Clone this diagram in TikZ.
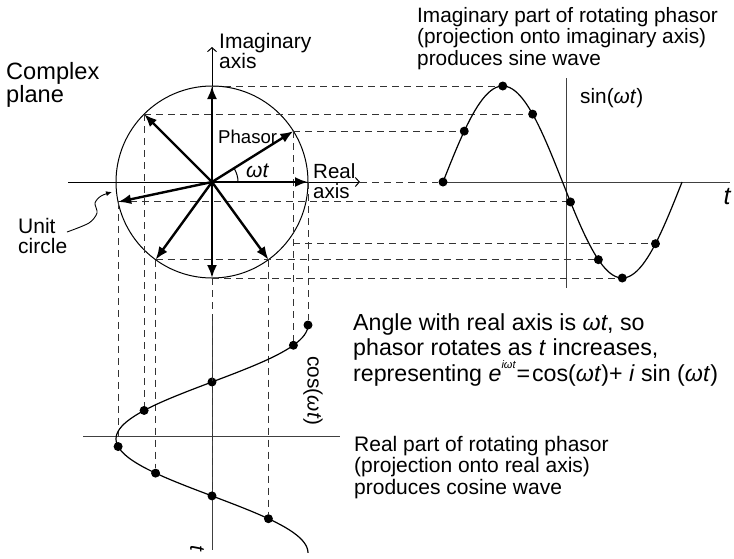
\documentclass[tikz,border=0pt]{standalone}
\usepackage{fontspec}
\setmainfont{Liberation Sans}
\usetikzlibrary{arrows.meta}

\begin{document}
\begin{tikzpicture}[x=1pt,y=-1pt,
  phasor/.style={line width=2.4pt,-{Latex[length=13pt,width=10pt]}},
  proj/.style={black!80,line width=1pt,dash pattern=on 7pt off 5pt},
  axisline/.style={black!75,line width=1pt},
  wave/.style={line width=1.2pt},
  dot/.style={circle,fill,inner sep=0pt,minimum size=9pt},
  txt/.style={align=left,anchor=north west,inner sep=0pt,font=\fontsize{20.8}{21.5}\selectfont}]
\useasboundingbox (0,0) rectangle (734,558);
\coordinate (O) at (212,182);
\coordinate (realL) at (68,182);
\coordinate (realR) at (360,182);
\coordinate (imagT) at (212,47);
\foreach \a/\n in {0/a,32/b,90/c,135/d,192/e,234/f,270/g,306/h}
  \path (O) ++(-\a:96) coordinate (p\n);
\draw[line width=1pt] (O) circle[radius=96pt];
\draw[line width=1pt,-{Straight Barb[length=4pt,width=9pt]}] (realL) -- (realR);
\draw[line width=1pt,-{Straight Barb[length=4pt,width=9pt]}] (O) -- (imagT);
\draw[line width=1pt] ([xshift=26pt]O) arc[start angle=0,end angle=32,radius=26pt];
\draw[axisline] (443,182) -- (730,182) coordinate (tsin);
\draw[axisline] (566,78) -- (566,288);
\draw[axisline] (83,436) -- (340,436);
\draw[axisline] (212,318) -- (212,550) coordinate (tcos);
\foreach \a/\n in {0/a,32/b,90/c,135/d,192/e,234/f,270/g,320/k}
  \node[dot] (s\n) at ({443+0.664*\a},{182-96*sin(\a)}) {};
\foreach \a/\n in {0/a,32/b,90/c,135/d,192/e,234/f,270/g,306/h}
  \node[dot] (c\n) at ({212+96*cos(\a)},{325+0.633*\a}) {};
\draw[proj] (pc) -- (sc);
\draw[proj] (pd) -- (sd);
\draw[proj] (pb) -- (sb);
\draw[proj] (realR) -- (sa);
\draw[proj] (pe) -- (se);
\draw[proj] (pb |- sk) -- (sk);
\draw[proj] (pf) -- (sf);
\draw[proj] (pg) -- (sg);
\draw[proj] (pa) -- (ca);
\draw[proj] (pb) -- (cb);
\draw[proj] (pd) -- (cd);
\draw[proj] (pe) -- (ce);
\draw[proj] (pf) -- (cf);
\draw[proj] (pg) -- (cg);
\draw[proj] (ph) -- (ch);
\draw[wave] plot[domain=0:360,samples=91] ({443+0.664*\x},{182-96*sin(\x)});
\draw[wave] plot[domain=0:360,samples=91] ({212+96*cos(\x)},{325+0.633*\x});
\foreach \n in {a,b,c,d,e,f,g,h}
  \draw[phasor] (O) -- (p\n);
\draw[line width=0.9pt,-{Latex[length=6pt,width=5pt]}] plot[smooth] coordinates {(67,232) (89,223) (97,213) (95,203) (101,196) (112,192)};
\node[txt] (imagtxt) at (417,7) {Imaginary part of rotating phasor\\(projection onto imaginary axis)\\produces sine wave};
\node[txt,font=\fontsize{23.6}{23}\selectfont] (plane) at (6,62) {Complex\\plane};
\node[txt,font=\fontsize{21}{20}\selectfont] (imaglbl) at (219,33) {Imaginary\\axis};
\node[txt,font=\fontsize{18.6}{20}\selectfont] (phasorlbl) at (218,130) {Phasor};
\node[txt,font=\fontsize{20.5}{20}\selectfont] (reallbl) at (313,163) {Real\\axis};
\node[txt,font=\fontsize{21}{21}\itshape] (angle) at (246,164) {ωt};
\node[txt,font=\fontsize{21}{20}\selectfont] (unit) at (18,218) {Unit\\circle};
\node[txt] (sinlbl) at (580,88) {sin(\textit{ωt})};
\node[inner sep=0pt,rotate=-90,font=\fontsize{20.8}{21.5}\selectfont] (coslbl) at (313,391) {cos(\textit{ωt})};
\node[txt,font=\fontsize{23.2}{25}\selectfont] (note) at (353,313) {Angle with real axis is \textit{ωt}, so\\phasor rotates as \textit{t} increases,\\representing \textit{e}\raisebox{0.55em}{\fontsize{11}{11}\itshape iωt}\kern1pt=\kern2pt cos(\textit{ωt})+ \textit{i} sin (\textit{ωt})};
\node[txt,font=\fontsize{21}{21.5}\selectfont] (realtxt) at (354,436) {Real part of rotating phasor\\(projection onto real axis)\\produces cosine wave};
\node[inner sep=0pt,font=\fontsize{25}{25}\itshape] (tright) at (727,197) {t};
\node[inner sep=0pt,rotate=-90,font=\fontsize{21}{21}\itshape] (tbottom) at (197,548) {t};
\end{tikzpicture}
\end{document}
